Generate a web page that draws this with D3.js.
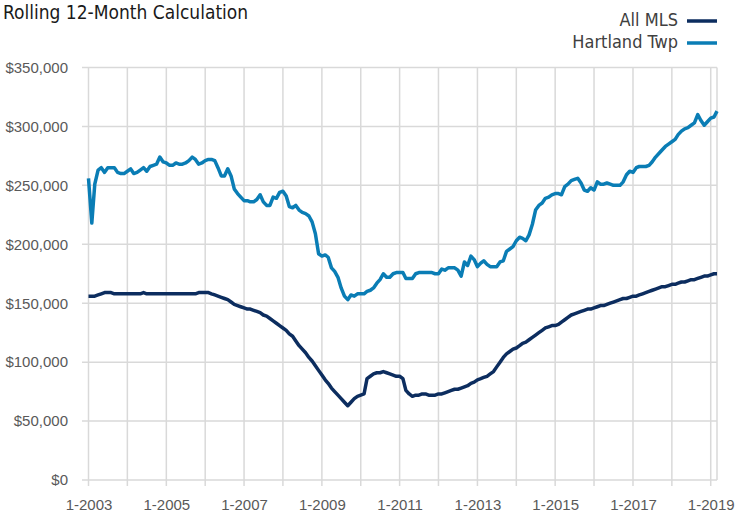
<!DOCTYPE html>
<html>
<head>
<meta charset="utf-8">
<script src="https://cdn.jsdelivr.net/npm/d3@7"></script>
<style>
  body { margin: 0; background: #fff; }
  svg { display: block; font-family: 'Liberation Sans Narrow', 'Arial Narrow', 'DejaVu Sans Condensed', sans-serif; }
</style>
</head>
<body>
<div id="container"></div>
<script>
// monthly rolling 12-month values, in $ thousands, Jan 2003 .. Mar 2019
const startMonth = new Date(2003, 0, 1);

const mlsValues = [
  156, 156, 156, 157, 158, 159, 159, 159, 158, 158, 158, 158, // 2003
  158, 158, 158, 158, 158, 159, 158, 158, 158, 158, 158, 158, // 2004
  158, 158, 158, 158, 158, 158, 158, 158, 158, 158, 159, 159, // 2005
  159, 159, 158, 157, 156, 155, 154, 153, 151, 149, 148, 147, // 2006
  146, 145, 145, 144, 143, 142, 140, 139, 137, 135, 133, 131, // 2007
  129, 127, 124, 122, 118, 114, 111, 108, 104, 101, 97, 93, // 2008
  89, 85, 82, 78, 75, 72, 69, 66, 63, 66, 69, 71, // 2009
  72, 73, 86, 88, 90, 91, 91, 92, 91, 90, 89, 88, // 2010
  88, 86, 76, 73, 71, 72, 72, 73, 73, 72, 72, 72, // 2011
  73, 73, 74, 75, 76, 77, 77, 78, 79, 80, 82, 83, // 2012
  85, 86, 87, 88, 90, 92, 96, 100, 104, 107, 109, 111, // 2013
  112, 114, 116, 117, 119, 121, 123, 125, 127, 129, 130, 131, // 2014
  131, 132, 134, 136, 138, 140, 141, 142, 143, 144, 145, 145, // 2015
  146, 147, 148, 148, 149, 150, 151, 152, 153, 154, 154, 155, // 2016
  156, 156, 157, 158, 159, 160, 161, 162, 163, 164, 164, 165, // 2017
  166, 166, 167, 168, 168, 169, 170, 170, 171, 172, 173, 173, // 2018
  174, 175, 175, // 2019
];

const hartlandValues = [
  256, 218, 251, 263, 265, 261, 265, 265, 265, 261, 260, 260, // 2003
  262, 264, 260, 261, 263, 265, 262, 266, 267, 268, 274, 270, // 2004
  269, 267, 267, 269, 268, 268, 269, 271, 274, 272, 268, 269, // 2005
  271, 272, 272, 271, 265, 258, 258, 264, 258, 247, 243, 240, // 2006
  237, 237, 236, 236, 238, 242, 236, 233, 233, 240, 239, 244, // 2007
  245, 241, 232, 231, 233, 229, 227, 226, 224, 219, 209, 192, // 2008
  190, 191, 189, 180, 177, 172, 163, 156, 153, 157, 156, 158, // 2009
  158, 158, 160, 161, 163, 167, 170, 175, 172, 172, 175, 176, // 2010
  176, 176, 171, 171, 171, 175, 176, 176, 176, 176, 176, 175, // 2011
  175, 179, 178, 180, 180, 180, 178, 173, 185, 182, 190, 187, // 2012
  181, 184, 186, 183, 181, 181, 181, 185, 186, 194, 196, 198, // 2013
  203, 206, 205, 203, 208, 217, 229, 233, 235, 239, 240, 242, // 2014
  243, 243, 242, 249, 251, 254, 255, 256, 252, 246, 245, 248, // 2015
  246, 253, 251, 251, 252, 251, 250, 250, 250, 253, 259, 262, // 2016
  261, 265, 266, 266, 266, 267, 270, 274, 277, 280, 283, 285, // 2017
  287, 289, 293, 296, 298, 299, 301, 303, 310, 305, 301, 304, // 2018
  307, 308, 313, // 2019
];

const seriesNames = ['All MLS', 'Hartland Twp'];
const seriesColors = ['#0c2d5f', '#0a7db5'];
const gridYears = d3.range(2003, 2020);
const labelYears = [2003, 2005, 2007, 2009, 2011, 2013, 2015, 2017, 2019];
const yTicks = [0, 50, 100, 150, 200, 250, 300, 350];

let svg,
  xScale,
  yScale,
  svgWidth = 736,
  svgHeight = 515;

const dates = mlsValues.map((d, i) => d3.timeMonth.offset(startMonth, i));

const drawGraph = () => {
  svg = d3
    .select('#container')
    .append('svg')
    .attr('width', svgWidth)
    .attr('height', svgHeight);

  svg
    .append('text')
    .text('Rolling 12-Month Calculation')
    .attr('x', 3)
    .attr('y', 19)
    .attr('fill', '#1a1a1a')
    .style('font-size', '19px');
};

const generateScales = () => {
  xScale = d3
    .scaleTime()
    .domain([dates[0], dates[dates.length - 1]])
    .range([88.5, 717]);

  yScale = d3.scaleLinear().domain([0, 350]).range([480, 67.5]);
};

const generateAxes = () => {
  const grid = svg.append('g').attr('class', 'grid');

  // vertical year lines + tick marks below the axis
  grid
    .selectAll('line.v')
    .data(gridYears)
    .enter()
    .append('line')
    .attr('class', 'v')
    .attr('x1', (d) => xScale(new Date(d, 0, 1)))
    .attr('x2', (d) => xScale(new Date(d, 0, 1)))
    .attr('y1', yScale(350))
    .attr('y2', yScale(0) + 6)
    .attr('stroke', '#d9d9d9')
    .attr('stroke-width', 1.5);

  grid
    .append('line')
    .attr('x1', xScale.range()[1])
    .attr('x2', xScale.range()[1])
    .attr('y1', yScale(350))
    .attr('y2', yScale(0))
    .attr('stroke', '#d9d9d9')
    .attr('stroke-width', 1.5);

  grid
    .selectAll('line.h')
    .data(yTicks)
    .enter()
    .append('line')
    .attr('class', 'h')
    .attr('x1', 82)
    .attr('x2', xScale.range()[1])
    .attr('y1', (d) => yScale(d))
    .attr('y2', (d) => yScale(d))
    .attr('stroke', '#d9d9d9')
    .attr('stroke-width', 1.5);

  const yAxis = d3
    .axisLeft(yScale)
    .tickValues(yTicks)
    .tickSize(0)
    .tickPadding(0)
    .tickFormat((d) => '$' + d3.format(',')(d * 1000));

  svg
    .append('g')
    .attr('transform', 'translate(68,0)')
    .call(yAxis)
    .call((g) => g.select('.domain').remove())
    .selectAll('text')
    .attr('fill', '#595959')
    .style('font-size', '15px')
    .style('font-family', 'inherit');

  const xAxis = d3
    .axisBottom(xScale)
    .tickValues(labelYears.map((y) => new Date(y, 0, 1)))
    .tickSize(0)
    .tickPadding(0)
    .tickFormat(d3.timeFormat('%-m-%Y'));

  svg
    .append('g')
    .attr('transform', 'translate(0,499)')
    .call(xAxis)
    .call((g) => g.select('.domain').remove())
    .selectAll('text')
    .attr('fill', '#595959')
    .style('font-size', '15px')
    .style('font-family', 'inherit');
};

const drawLines = () => {
  const line = d3
    .line()
    .x((d) => xScale(d.date))
    .y((d) => yScale(d.value));

  [mlsValues, hartlandValues].forEach((values, i) => {
    svg
      .append('path')
      .datum(values.map((v, j) => ({ date: dates[j], value: v })))
      .attr('fill', 'none')
      .attr('stroke', seriesColors[i])
      .attr('stroke-width', 3.5)
      .attr('stroke-linejoin', 'round')
      .attr('d', line);
  });
};

const drawLegend = () => {
  const legend = svg
    .selectAll('g.legend')
    .data(seriesNames)
    .enter()
    .append('g')
    .attr('class', 'legend')
    .attr('transform', (d, i) => `translate(0,${21 + i * 22})`);

  legend
    .append('text')
    .text((d) => d)
    .attr('x', 678)
    .attr('y', 5)
    .attr('text-anchor', 'end')
    .attr('fill', '#404040')
    .style('font-size', '18px');

  legend
    .append('line')
    .attr('x1', 687)
    .attr('x2', 717)
    .attr('y1', 0)
    .attr('y2', 0)
    .attr('stroke', (d, i) => seriesColors[i])
    .attr('stroke-width', 3.5);
};

drawGraph();
generateScales();
generateAxes();
drawLines();
drawLegend();
</script>
</body>
</html>
